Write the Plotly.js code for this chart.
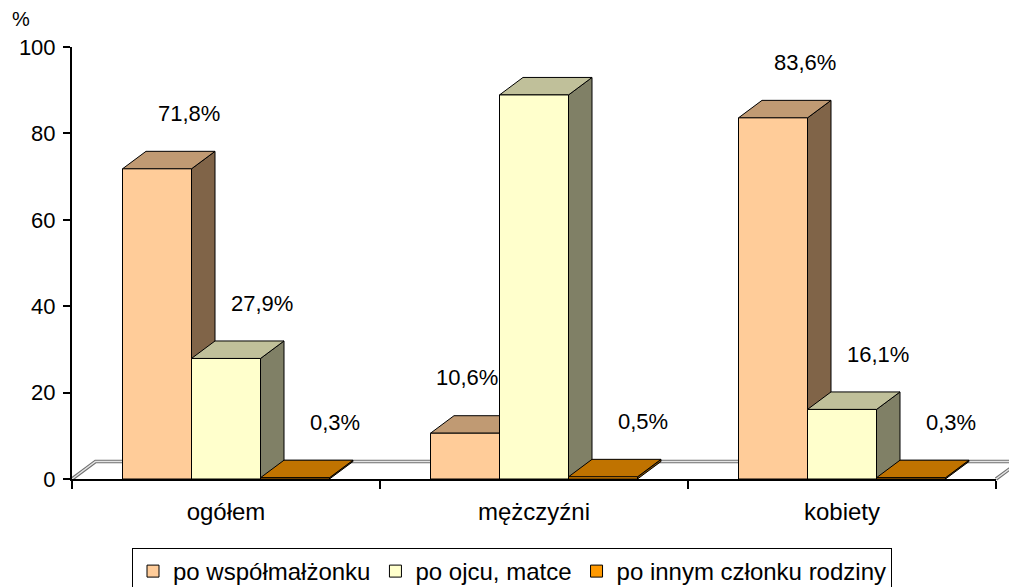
<!DOCTYPE html>
<html><head><meta charset="utf-8">
<script src="https://cdn.plot.ly/plotly-3.0.1.min.js"></script>
<style>html,body{margin:0;padding:0;background:#fff}</style>
</head><body>
<div id="chart" style="width:1009px;height:587px"></div>
<script>
// ---- data ----
const categories = ['ogółem', 'mężczyźni', 'kobiety'];
const seriesNames = ['po współmałżonku', 'po ojcu, matce', 'po innym członku rodziny'];
const spouseValues = [71.8, 10.6, 83.6];
const parentValues = [27.9, 88.9, 16.1];
const otherValues = [0.3, 0.5, 0.3];
const yTickValues = [0, 20, 40, 60, 80, 100];

// ---- styles ----
const frontColors = ['#FFCC99', '#FFFFCC', '#FF9900'];
const topColors = ['#C09A73', '#C0C09A', '#C07300'];
const sideColors = ['#806448', '#808066', '#804D00'];
const labelShiftPx = [32, 36, 40];
const FONT = 'Liberation Sans, Arial, sans-serif';

const W = 1009, H = 587;
const M = {l: 72, r: 13, t: 47, b: 108, autoexpand: false};
const plotW = W - M.l - M.r, plotH = H - M.t - M.b;
const xRange = [-0.5, categories.length - 0.5];
const yRange = [0, 100];
const pxPerX = plotW / (xRange[1] - xRange[0]);
const pxPerY = plotH / (yRange[1] - yRange[0]);
const DEPTH_X_PX = 23.5, DEPTH_Y_PX = 17.5;
const dX = DEPTH_X_PX / pxPerX, dY = DEPTH_Y_PX / pxPerY;
const bargap = 0.328;
const nSeries = 3;
const barW = (1 - bargap) / nSeries;

const allSeries = [spouseValues, parentValues, otherValues];
const xIdx = categories.map((c, i) => i);

const traces = allSeries.map((vals, k) => ({
  type: 'bar', x: xIdx, y: vals, name: seriesNames[k],
  marker: {color: frontColors[k], line: {color: '#000', width: 1}},
  hoverinfo: 'skip'
}));

const shapes = [];
// floor slab (paper coordinates so it may extend past plot edge)
const fx = DEPTH_X_PX / plotW, fy = DEPTH_Y_PX / plotH;
const floorPath = `M0,0 L${fx},${fy} L${1 + fx},${fy} L1,0`;
shapes.push({type: 'path', xref: 'paper', yref: 'paper', layer: 'below', path: floorPath,
  line: {color: '#707070', width: 3.5}});
shapes.push({type: 'path', xref: 'paper', yref: 'paper', layer: 'below', path: floorPath,
  line: {color: '#e4e4e4', width: 1.5}});

const annotations = [];
categories.forEach((c, i) => {
  for (let k = 0; k < nSeries; k++) {
    const v = allSeries[k][i];
    const x0 = i - (1 - bargap) / 2 + k * barW, x1 = x0 + barW;
    shapes.push({type: 'path', xref: 'x', yref: 'y', layer: 'below',
      path: `M${x1},0 L${x1 + dX},${dY} L${x1 + dX},${v + dY} L${x1},${v} Z`,
      fillcolor: sideColors[k], line: {color: '#000', width: 1}});
    shapes.push({type: 'path', xref: 'x', yref: 'y', layer: 'below',
      path: `M${x0},${v} L${x0 + dX},${v + dY} L${x1 + dX},${v + dY} L${x1},${v} Z`,
      fillcolor: topColors[k], line: {color: '#000', width: 1}});
    // label: above bar, nudged right unless the next bar is tall enough to collide
    const next = k + 1 < nSeries ? allSeries[k + 1][i] : -Infinity;
    const shift = next > v + 12.8 ? 2 : labelShiftPx[k];
    annotations.push({xref: 'x', yref: 'y', x: (x0 + x1) / 2, y: v + 12.8, xshift: shift,
      text: v.toFixed(1).replace('.', ',') + '%', showarrow: false,
      font: {family: FONT, size: 22, color: '#000'}});
  }
});
annotations.push({xref: 'paper', yref: 'paper', x: (21 - M.l) / plotW, y: 1 + (M.t - 19) / plotH,
  xanchor: 'center', yanchor: 'middle',
  text: '%', showarrow: false, font: {family: FONT, size: 20, color: '#000'}});

const layout = {
  width: W, height: H, margin: M,
  paper_bgcolor: '#fff', plot_bgcolor: 'rgba(0,0,0,0)',
  font: {family: FONT, size: 22, color: '#000'},
  barmode: 'group', bargap: bargap, bargroupgap: 0,
  xaxis: {type: 'linear', range: xRange, tickvals: xIdx, ticktext: categories, automargin: false,
    ticks: '', showline: true, linecolor: '#000', linewidth: 2, showgrid: false, zeroline: false,
    ticklabelstandoff: 10, tickfont: {family: FONT, size: 24},
    minor: {tickvals: [-0.5, 0.5, 1.5, 2.5], ticks: 'outside', ticklen: 8, tickwidth: 2, tickcolor: '#000', showgrid: false}},
  yaxis: {range: yRange, tickvals: yTickValues, ticks: 'outside', ticklen: 7, tickwidth: 2, tickcolor: '#000',
    showline: true, linecolor: '#000', linewidth: 2, showgrid: false, zeroline: false, automargin: false,
    ticklabelstandoff: 3, tickfont: {family: FONT, size: 22}},
  showlegend: true,
  legend: {orientation: 'h', x: (512 - M.l) / plotW, xanchor: 'center', y: -(548 - (M.t + plotH)) / plotH, yanchor: 'top',
    bordercolor: '#000', borderwidth: 1, font: {family: FONT, size: 24}, itemwidth: 30, traceorder: 'normal'},
  shapes: shapes, annotations: annotations
};

Plotly.newPlot('chart', traces, layout, {displayModeBar: false, staticPlot: true});
</script>
</body></html>
